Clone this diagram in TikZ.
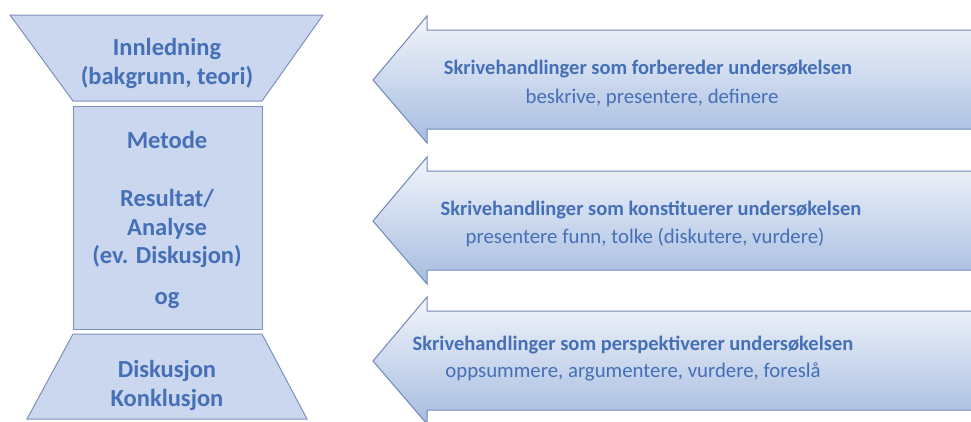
\documentclass[tikz,border=0pt]{standalone}
\usepackage{fontspec}
\setmainfont{Carlito}
\definecolor{txtblue}{HTML}{456FB6}
\definecolor{boxfill}{HTML}{CAD7EE}
\definecolor{boxline}{HTML}{7F90BC}
\definecolor{arrtop}{HTML}{F2F5FB}
\definecolor{arrbot}{HTML}{A6BCE0}
\definecolor{arrline}{HTML}{6F88B8}
\begin{document}
\begin{tikzpicture}[x=1pt,y=-1pt,
  shapebox/.style={draw=boxline, fill=boxfill, line width=1pt},
  bigarrow/.style={draw=arrline, line width=1pt, top color=arrtop, bottom color=arrbot},
  lefttxt/.style={text=txtblue, font=\fontsize{24.5}{29}\selectfont\bfseries, align=center, inner sep=0pt},
  headtxt/.style={text=txtblue, font=\fontsize{20.5}{22}\selectfont\bfseries, inner sep=0pt},
  subtxt/.style={text=txtblue, font=\fontsize{20.8}{22}\selectfont, inner sep=0pt}]
\useasboundingbox (0,0) rectangle (971,421);
\clip (0,0) rectangle (971,421);
% left column shapes
\draw[shapebox] (10,15) -- (323,15) -- (262,101) -- (73,101) -- cycle;
\draw[shapebox] (73,106) rectangle (262,329);
\draw[shapebox] (73,334) -- (262,334) -- (307,419) -- (27,419) -- cycle;
% arrows
\foreach \c in {80,221,361}{
  \draw[bigarrow] (373,\c) -- (427,\c-64) -- (427,\c-50) -- (990,\c-50)
     -- (990,\c+49) -- (427,\c+49) -- (427,\c+63) -- cycle;
}
% left texts
\node[lefttxt, anchor=base] (inn) at (167,55) {Innledning};
\node[lefttxt, anchor=base] (bak) at (167,84) {(bakgrunn, teori)};
\node[lefttxt, anchor=base] (met) at (167,148) {Metode};
\node[lefttxt, anchor=base] (res) at (167,206) {Resultat/};
\node[lefttxt, anchor=base] (ana) at (167,235) {Analyse};
\node[lefttxt, anchor=base] (evd) at (167,263) {(ev. Diskusjon)};
\node[lefttxt, anchor=base] (og) at (167,304) {og};
\node[lefttxt, anchor=base] (dis) at (167,377) {Diskusjon};
\node[lefttxt, anchor=base] (kon) at (167,406) {Konklusjon};
% arrow texts
\node[headtxt, anchor=base] (h1) at (648,74) {Skrivehandlinger som forbereder undersøkelsen};
\node[subtxt, anchor=base] (s1) at (652,103) {beskrive, presentere, definere};
\node[headtxt, anchor=base] (h2) at (651,215) {Skrivehandlinger som konstituerer undersøkelsen};
\node[subtxt, anchor=base] (s2) at (645,243) {presentere funn, tolke (diskutere, vurdere)};
\node[headtxt, anchor=base] (h3) at (633,350) {Skrivehandlinger som perspektiverer undersøkelsen};
\node[subtxt, anchor=base] (s3) at (633,377) {oppsummere, argumentere, vurdere, foreslå};
\end{tikzpicture}
\end{document}
